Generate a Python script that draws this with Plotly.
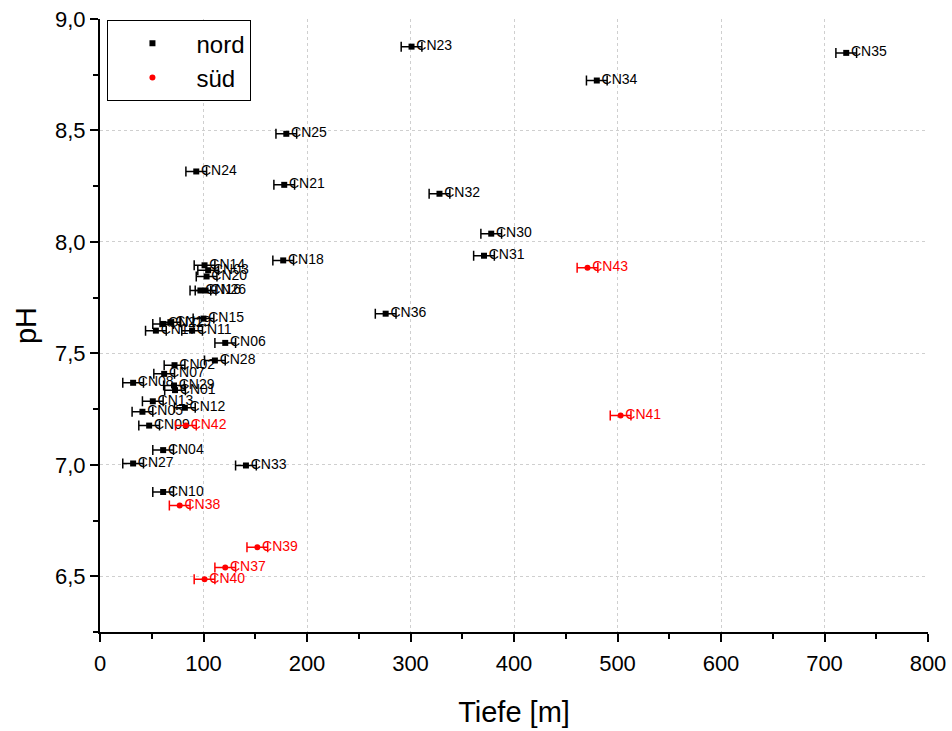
import plotly.graph_objects as go

# Nord wells: name, depth [m], pH
nord_names = ["CN01", "CN02", "CN03", "CN04", "CN05", "CN06", "CN07", "CN08", "CN09",
              "CN10", "CN11", "CN12", "CN13", "CN14", "CN15", "CN16", "CN17", "CN18",
              "CN19", "CN20", "CN21", "CN22", "CN23", "CN24", "CN25", "CN26", "CN27",
              "CN28", "CN29", "CN30", "CN31", "CN32", "CN33", "CN34", "CN35", "CN36"]
nord_depth = [72.5, 72, 104.5, 61, 41, 121, 62, 32, 47.5,
              61, 89, 82, 51, 101, 100, 97, 54, 177,
              68, 103, 178, 61, 301, 93, 180, 102, 32,
              111, 71.5, 378, 371, 328, 141, 480, 721, 276]
nord_ph = [7.335, 7.447, 7.873, 7.066, 7.238, 7.547, 7.408, 7.368, 7.176,
           6.878, 7.602, 7.256, 7.285, 7.895, 7.656, 7.782, 7.602, 7.917,
           7.640, 7.845, 8.256, 7.632, 8.876, 8.316, 8.485, 7.782, 7.006,
           7.468, 7.356, 8.037, 7.938, 8.216, 6.997, 8.724, 8.848, 7.678]

# Süd wells
sued_names = ["CN37", "CN38", "CN39", "CN40", "CN41", "CN42", "CN43"]
sued_depth = [121, 77, 152, 101, 503, 83, 471]
sued_ph = [6.539, 6.818, 6.630, 6.487, 7.221, 7.176, 7.884]

# Depth uncertainty [m]
depth_err = 10

x_ticks = [0, 100, 200, 300, 400, 500, 600, 700, 800]
y_ticks = [6.5, 7.0, 7.5, 8.0, 8.5, 9.0]

FONT = "Liberation Sans, Arial, sans-serif"

fig = go.Figure()


def add_group(names, depth, ph, color, symbol, label):
    fig.add_trace(go.Scatter(
        x=depth, y=ph, name=label,
        mode="markers+text",
        text=names, textposition="middle right",
        textfont=dict(family=FONT, size=14, color=color),
        marker=dict(color=color, symbol=symbol, size=6),
        error_x=dict(type="constant", value=depth_err, thickness=1.5,
                     width=5, color=color),
        cliponaxis=False,
    ))


add_group(nord_names, nord_depth, nord_ph, "black", "square", "nord")
add_group(sued_names, sued_depth, sued_ph, "#ff0000", "circle", "süd")

axis_common = dict(
    showline=True, linecolor="black", linewidth=2,
    ticks="outside", ticklen=8, tickwidth=2, tickcolor="black",
    showgrid=True, gridcolor="#cfcfcf", griddash="dot", gridwidth=1,
    zeroline=False, mirror=False, automargin=False,
    tickfont=dict(family=FONT, size=22, color="black"),
)

fig.update_xaxes(
    range=[0, 800], tickvals=x_ticks,
    minor=dict(ticks="outside", ticklen=5, tickwidth=1.5, tickcolor="black", dtick=50, showgrid=False),
    title=dict(text="Tiefe [m]", font=dict(family=FONT, size=29, color="black"), standoff=26),
    ticklabelstandoff=3,
    **axis_common,
)
fig.update_yaxes(
    range=[6.25, 9.0], tickvals=y_ticks, tickformat=".1f",
    minor=dict(ticks="outside", ticklen=5, tickwidth=1.5, tickcolor="black", dtick=0.25, showgrid=False),
    title=dict(text="pH", font=dict(family=FONT, size=29, color="black"), standoff=10),
    **axis_common,
)

fig.update_layout(
    width=952, height=731,
    margin=dict(l=100, r=24, t=19, b=99),
    paper_bgcolor="white", plot_bgcolor="white",
    separators=",.",
    font=dict(family=FONT, color="black"),
    legend=dict(
        x=0.009, y=0.998, xanchor="left", yanchor="top",
        bgcolor="white", bordercolor="black", borderwidth=1,
        font=dict(family=FONT, size=24, color="black"),
        itemwidth=78, tracegroupgap=0,
    ),
)

fig.write_html("out.html")
